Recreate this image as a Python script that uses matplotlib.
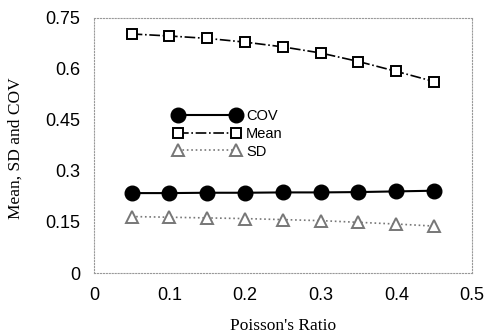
import matplotlib
matplotlib.use("Agg")
import matplotlib.pyplot as plt

# Poisson's ratio vs statistics
poisson = [0.05, 0.10, 0.15, 0.20, 0.25, 0.30, 0.35, 0.40, 0.45]
cov = [0.235, 0.235, 0.236, 0.236, 0.237, 0.237, 0.238, 0.240, 0.242]
mean = [0.703, 0.697, 0.690, 0.679, 0.665, 0.647, 0.622, 0.593, 0.563]
sd = [0.166, 0.164, 0.162, 0.160, 0.157, 0.154, 0.149, 0.144, 0.138]

xticks = [0, 0.1, 0.2, 0.3, 0.4, 0.5]
xtick_labels = ["0", "0.1", "0.2", "0.3", "0.4", "0.5"]
yticks = [0, 0.15, 0.3, 0.45, 0.6, 0.75]
ytick_labels = ["0", "0.15", "0.3", "0.45", "0.6", "0.75"]

fig = plt.figure(figsize=(4.89, 3.36), dpi=100)
ax = fig.add_axes([0.192, 0.1875, 0.773, 0.759])

ax.plot(poisson, cov, '-', color='black', lw=1.5, marker='o', ms=10.5,
        mfc='black', mec='black', label='COV')
ax.plot(poisson, mean, '-.', color='black', lw=1.2, marker='s', ms=7.5,
        mfc='white', mec='black', mew=1.4, label='Mean')
ax.plot(poisson, sd, ':', color='#777777', lw=1.2, marker='^', ms=9,
        mfc='white', mec='#777777', mew=1.4, label='SD')

ax.set_xlim(0, 0.5)
ax.set_ylim(0, 0.75)
ax.set_xticks(xticks)
ax.set_xticklabels(xtick_labels, family='Liberation Sans', fontsize=13)
ax.set_yticks(yticks)
ax.set_yticklabels(ytick_labels, family='Liberation Sans', fontsize=13)
ax.tick_params(length=0, pad=10)

for s in ax.spines.values():
    s.set_color('#999999')
    s.set_linewidth(0.8)
    s.set_linestyle(':')

ax.set_xlabel("Poisson's Ratio", family='Liberation Serif', fontsize=12.5, labelpad=10)
ax.set_ylabel("Mean, SD and COV", family='Liberation Serif', fontsize=12.5)
ax.yaxis.set_label_coords(-0.185, 0.49)

ax.legend(loc='upper left', bbox_to_anchor=(0.21, 0.642), frameon=False,
          prop={'family': 'Liberation Sans', 'size': 10.5}, numpoints=2,
          handlelength=4.6, labelspacing=0.25, handletextpad=0.4,
          borderaxespad=0, borderpad=0)

fig.savefig("out.png", dpi=100)
